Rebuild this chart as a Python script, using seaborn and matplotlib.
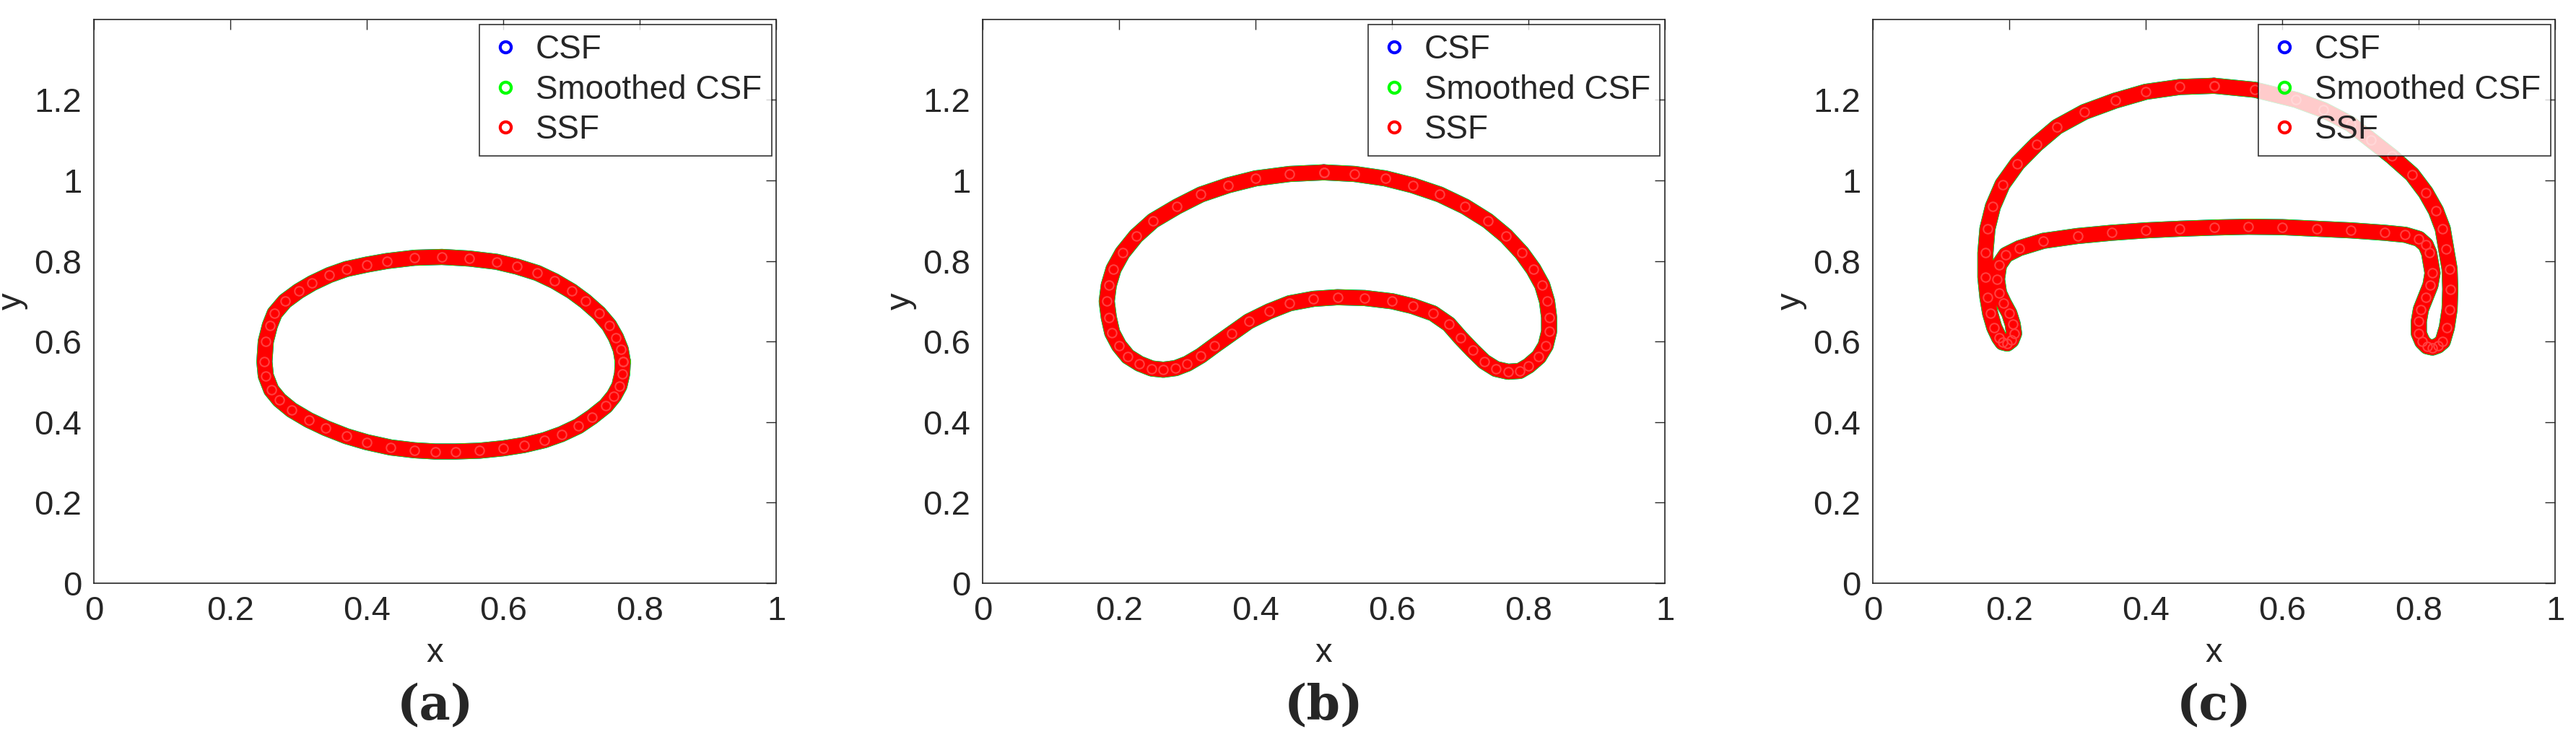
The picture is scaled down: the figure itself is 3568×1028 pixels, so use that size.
import matplotlib
matplotlib.use("Agg")
import matplotlib.pyplot as plt
import seaborn as sns
import pandas as pd

sns.set_theme(style="white")
plt.rcParams['font.family'] = ['Liberation Sans', 'DejaVu Sans']

# panel (a): ellipse
a_x = [0.775,0.772,0.765,0.755,0.74,0.72,0.70,0.675,0.65,0.62,0.59,0.55,0.51,0.47,0.43,0.40,0.37,0.345,0.32,0.30,0.28,0.265,0.258,0.252,0.25,0.252,0.26,0.272,0.29,0.315,0.34,0.37,0.40,0.435,0.47,0.50,0.53,0.565,0.60,0.63,0.66,0.685,0.71,0.73,0.75,0.762,0.77,0.774,0.775]
a_y = [0.55,0.58,0.61,0.64,0.67,0.70,0.725,0.75,0.77,0.786,0.798,0.806,0.81,0.808,0.80,0.791,0.78,0.765,0.745,0.725,0.70,0.67,0.64,0.60,0.55,0.515,0.48,0.455,0.43,0.405,0.385,0.365,0.35,0.337,0.33,0.327,0.327,0.329,0.335,0.343,0.355,0.37,0.39,0.413,0.44,0.465,0.49,0.52,0.55]
# panel (b): kidney
b_x = [0.5,0.45,0.40,0.36,0.32,0.285,0.25,0.225,0.205,0.192,0.185,0.182,0.185,0.19,0.20,0.213,0.23,0.248,0.265,0.283,0.30,0.32,0.34,0.365,0.39,0.42,0.45,0.485,0.52,0.56,0.60,0.63,0.66,0.683,0.70,0.718,0.735,0.752,0.77,0.787,0.80,0.815,0.825,0.83,0.83,0.827,0.82,0.807,0.79,0.767,0.74,0.707,0.67,0.63,0.59,0.545,0.5]
b_y = [1.02,1.016,1.005,0.988,0.965,0.935,0.9,0.862,0.82,0.78,0.74,0.70,0.66,0.622,0.59,0.563,0.545,0.533,0.53,0.534,0.545,0.565,0.59,0.62,0.65,0.675,0.695,0.706,0.71,0.708,0.70,0.688,0.67,0.643,0.61,0.578,0.55,0.532,0.525,0.527,0.54,0.562,0.59,0.625,0.66,0.70,0.74,0.78,0.82,0.862,0.9,0.935,0.965,0.988,1.005,1.016,1.02]
# panel (c): arch with hooks
c_x = [0.5,0.45,0.40,0.355,0.31,0.27,0.24,0.212,0.19,0.176,0.168,0.165,0.165,0.168,0.172,0.178,0.185,0.19,0.197,0.203,0.207,0.205,0.20,0.192,0.185,0.182,0.185,0.195,0.215,0.25,0.30,0.35,0.40,0.45,0.50,0.55,0.60,0.65,0.70,0.75,0.78,0.80,0.81,0.815,0.82,0.817,0.81,0.803,0.80,0.80,0.805,0.812,0.82,0.828,0.835,0.841,0.845,0.846,0.845,0.84,0.835,0.825,0.81,0.79,0.76,0.73,0.70,0.66,0.62,0.56,0.5]
c_y = [1.235,1.232,1.22,1.198,1.17,1.133,1.09,1.042,0.99,0.935,0.88,0.82,0.76,0.71,0.67,0.635,0.61,0.598,0.595,0.603,0.62,0.643,0.67,0.695,0.72,0.755,0.79,0.815,0.832,0.85,0.862,0.87,0.876,0.88,0.883,0.885,0.884,0.88,0.876,0.87,0.865,0.855,0.84,0.82,0.77,0.74,0.71,0.68,0.65,0.62,0.60,0.588,0.585,0.59,0.60,0.635,0.68,0.73,0.78,0.83,0.88,0.925,0.97,1.015,1.06,1.10,1.14,1.175,1.20,1.225,1.235]

series = ["CSF", "Smoothed CSF", "SSF"]
colors = ["#0000ff", "#00ff00", "#ff0000"]
captions = ["(a)", "(b)", "(c)"]
xticks = [0, 0.2, 0.4, 0.6, 0.8, 1]
xticklabels = ["0", "0.2", "0.4", "0.6", "0.8", "1"]
yticks = [0, 0.2, 0.4, 0.6, 0.8, 1, 1.2]
yticklabels = ["0", "0.2", "0.4", "0.6", "0.8", "1", "1.2"]

fig = plt.figure(figsize=(35.68, 10.28), dpi=100)
lefts = [0.0364, 0.3814, 0.727]
width = 0.265
bottom, height = 0.214, 0.76
panels = [(a_x, a_y), (b_x, b_y), (c_x, c_y)]
for i, (px, py) in enumerate(panels):
    ax = fig.add_axes([lefts[i], bottom, width, height])
    for s, col in zip(series, colors):
        df = pd.DataFrame({"x": px, "y": py})
        lw = 15 if s == "SSF" else 16
        sns.lineplot(data=df, x="x", y="y", sort=False, estimator=None, ax=ax,
                     color=col, linewidth=lw, marker="o", markersize=9,
                     markerfacecolor="none", markeredgecolor=col if s != "SSF" else "#ff4040",
                     markeredgewidth=1.5, solid_joinstyle="round", solid_capstyle="round")
    handles = [plt.Line2D([], [], linestyle="none", marker="o", markersize=11,
                          markerfacecolor="none", markeredgecolor=c, markeredgewidth=3)
               for c in colors]
    leg = ax.legend(handles, series, loc="upper right", fontsize=33, frameon=True,
                    fancybox=False, edgecolor="black", borderpad=0.3,
                    handletextpad=0.4, handlelength=1.0, labelspacing=0.25,
                    borderaxespad=0.15)
    leg.get_frame().set_linewidth(1.2)
    ax.set_xlim(0, 1)
    ax.set_ylim(0, 1.4)
    ax.set_xticks(xticks)
    ax.set_xticklabels(xticklabels)
    ax.set_yticks(yticks)
    ax.set_yticklabels(yticklabels)
    ax.tick_params(direction="in", length=10, width=1, top=True, right=True,
                   labelsize=34, colors="#262626", pad=12)
    for sp in ax.spines.values():
        sp.set_color("#262626")
        sp.set_linewidth(1.2)
    ax.set_xlabel("x", fontsize=34, color="#262626", labelpad=10)
    ax.set_ylabel("y", fontsize=34, color="#262626", labelpad=6)
    fig.text(lefts[i] + width / 2, 0.049, captions[i], ha="center", va="center",
             fontsize=48, fontweight="bold", family="DejaVu Serif")

fig.savefig("out.png", dpi=100)
